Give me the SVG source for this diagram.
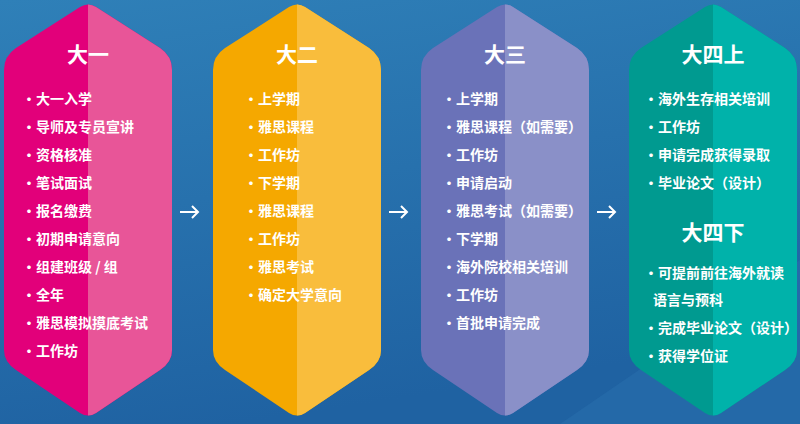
<svg xmlns="http://www.w3.org/2000/svg" width="800" height="424" viewBox="0 0 800 424">
<defs>
<linearGradient id="bg" x1="0" y1="0" x2="0.3" y2="1"><stop offset="0" stop-color="#2f80b8"/><stop offset="1" stop-color="#1f62a2"/></linearGradient>
<path id="hex" d="M-84,70 Q-84,56 -72,48 L-8,7 Q0,2 8,7 L72,48 Q84,56 84,70 L84,350 Q84,362 72,370 L8,413 Q0,418 -8,413 L-72,370 Q-84,362 -84,350 Z"/>
<clipPath id="half"><rect x="0" y="0" width="100" height="424"/></clipPath>
</defs>
<style>
text{font-family:"Noto Sans CJK SC","Noto Sans",sans-serif;fill:#fff;font-weight:bold}
.t{font-size:21px;text-anchor:middle}
.i{font-size:14px}
.ar{fill:none;stroke:#fff;stroke-width:2}
</style>
<rect width="800" height="424" fill="url(#bg)"/>
<polygon points="560,424 800,260 800,424" fill="#2a70ae" opacity="0.5"/>
<g id="n1" transform="translate(88,0)"><use href="#hex" fill="#e2007a"/><use href="#hex" fill="#e85598" clip-path="url(#half)"/>
<text class="t" x="0" y="62">大一</text>
<g class="i" transform="translate(-66,0)"><text y="104">·大一入学</text><text y="132">·导师及专员宣讲</text><text y="160">·资格核准</text><text y="188">·笔试面试</text><text y="216">·报名缴费</text><text y="244">·初期申请意向</text><text y="272">·组建班级 / 组</text><text y="300">·全年</text><text y="328">·雅思模拟摸底考试</text><text y="356">·工作坊</text></g></g>
<g id="n2" transform="translate(297,0)"><use href="#hex" fill="#f5a800"/><use href="#hex" fill="#f9bd3c" clip-path="url(#half)"/>
<text class="t" x="0" y="62">大二</text>
<g class="i" transform="translate(-53,0)"><text y="104">·上学期</text><text y="132">·雅思课程</text><text y="160">·工作坊</text><text y="188">·下学期</text><text y="216">·雅思课程</text><text y="244">·工作坊</text><text y="272">·雅思考试</text><text y="300">·确定大学意向</text></g></g>
<g id="n3" transform="translate(505,0)"><use href="#hex" fill="#6a72b8"/><use href="#hex" fill="#8a90c8" clip-path="url(#half)"/>
<text class="t" x="0" y="62">大三</text>
<g class="i" transform="translate(-63,0)"><text y="104">·上学期</text><text y="132">·雅思课程（如需要）</text><text y="160">·工作坊</text><text y="188">·申请启动</text><text y="216">·雅思考试（如需要）</text><text y="244">·下学期</text><text y="272">·海外院校相关培训</text><text y="300">·工作坊</text><text y="328">·首批申请完成</text></g></g>
<g id="n4" transform="translate(713,0)"><use href="#hex" fill="#009a90"/><use href="#hex" fill="#00b2aa" clip-path="url(#half)"/>
<text class="t" x="0" y="62">大四上</text>
<g class="i" transform="translate(-69,0)"><text y="104">·海外生存相关培训</text><text y="132">·工作坊</text><text y="160">·申请完成获得录取</text><text y="188">·毕业论文（设计）</text></g>
<text class="t" x="0" y="240">大四下</text>
<g class="i" transform="translate(-69,0)"><text y="278">·可提前前往海外就读</text><text x="9" y="305">语言与预科</text><text y="333">·完成毕业论文（设计）</text><text y="361">·获得学位证</text></g></g>
<g id="connectors">
<path class="ar" d="M180,212 H198 M192,206 L198,212 L192,218"/>
<path class="ar" d="M389,212 H407 M401,206 L407,212 L401,218"/>
<path class="ar" d="M597,212 H615 M609,206 L615,212 L609,218"/>
</g>
</svg>
